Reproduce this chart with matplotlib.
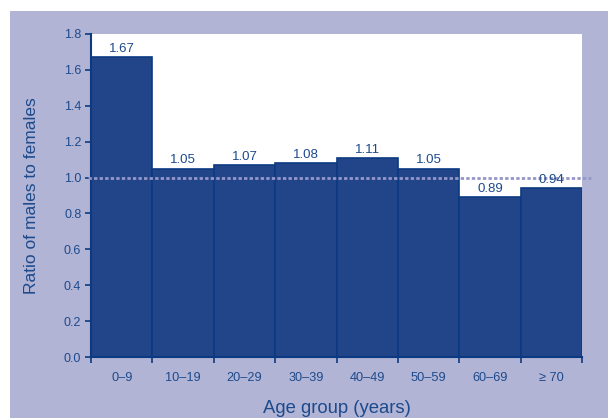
import matplotlib
matplotlib.use("Agg")
import matplotlib.pyplot as plt
from matplotlib.patches import Rectangle

plt.rcParams["font.family"] = ["Liberation Sans", "DejaVu Sans"]

age_groups = ["0–9", "10–19", "20–29", "30–39", "40–49", "50–59", "60–69", "≥ 70"]
ratios = [1.67, 1.05, 1.07, 1.08, 1.11, 1.05, 0.89, 0.94]
y_ticks = [0.0, 0.2, 0.4, 0.6, 0.8, 1.0, 1.2, 1.4, 1.6, 1.8]
reference_ratio = 1.0

bg = "#b1b4d5"
bar_fill = "#22458a"
bar_edge = "#0c3a82"
text_col = "#1d4a8c"

fig = plt.figure(figsize=(6.08, 4.18), dpi=100)
fig.patch.set_facecolor("white")
fig.add_artist(Rectangle((10 / 608, 0), 1 - 10 / 608, 1 - 11 / 418,
                         transform=fig.transFigure, facecolor=bg,
                         edgecolor="none", zorder=0))

ax = fig.add_axes([91 / 608, 1 - 357 / 418, (582 - 91) / 608, (357 - 34) / 418])
ax.set_facecolor("white")

x = list(range(len(age_groups)))
ax.bar(x, ratios, width=1.0, align="center", color=bar_fill,
       edgecolor=bar_edge, linewidth=1.2, zorder=2)

for xi, v in zip(x, ratios):
    ax.text(xi, v + 0.012, f"{v:.2f}", ha="center", va="bottom",
            fontsize=9.5, color=text_col, zorder=4)

# dotted reference line at parity, running slightly past the plot area
ax.plot([-0.55, 7.65], [reference_ratio, reference_ratio],
        linestyle=(0, (1.2, 0.8)), color="#9597c9", linewidth=2.0,
        zorder=3, clip_on=False)

ax.set_xlim(-0.5, len(age_groups) - 0.5)
ax.set_ylim(0, 1.8)
ax.set_yticks(y_ticks)
ax.set_yticklabels([f"{t:.1f}" for t in y_ticks])
ax.set_xticks([i - 0.5 for i in range(len(age_groups) + 1)], minor=False)
ax.set_xticklabels([])
ax.set_xticks(x, minor=True)
ax.set_xticklabels(age_groups, minor=True)
ax.tick_params(axis="x", which="major", direction="out", length=4,
               width=1.2, color=bar_edge)
ax.tick_params(axis="x", which="minor", length=0, pad=11,
               labelsize=9.2, labelcolor=text_col)
ax.tick_params(axis="y", direction="out", length=4, width=1.2,
               color=bar_edge, labelsize=9, labelcolor=text_col, pad=3)

for side in ("top", "right"):
    ax.spines[side].set_visible(False)
for side in ("left", "bottom"):
    ax.spines[side].set_color(bar_edge)
    ax.spines[side].set_linewidth(1.5)

ax.set_ylabel("Ratio of males to females", fontsize=12.5, color=text_col,
              labelpad=18)
ax.set_xlabel("Age group (years)", fontsize=13.3, color=text_col, labelpad=11)

fig.savefig("out.png", dpi=100, facecolor=fig.get_facecolor())
